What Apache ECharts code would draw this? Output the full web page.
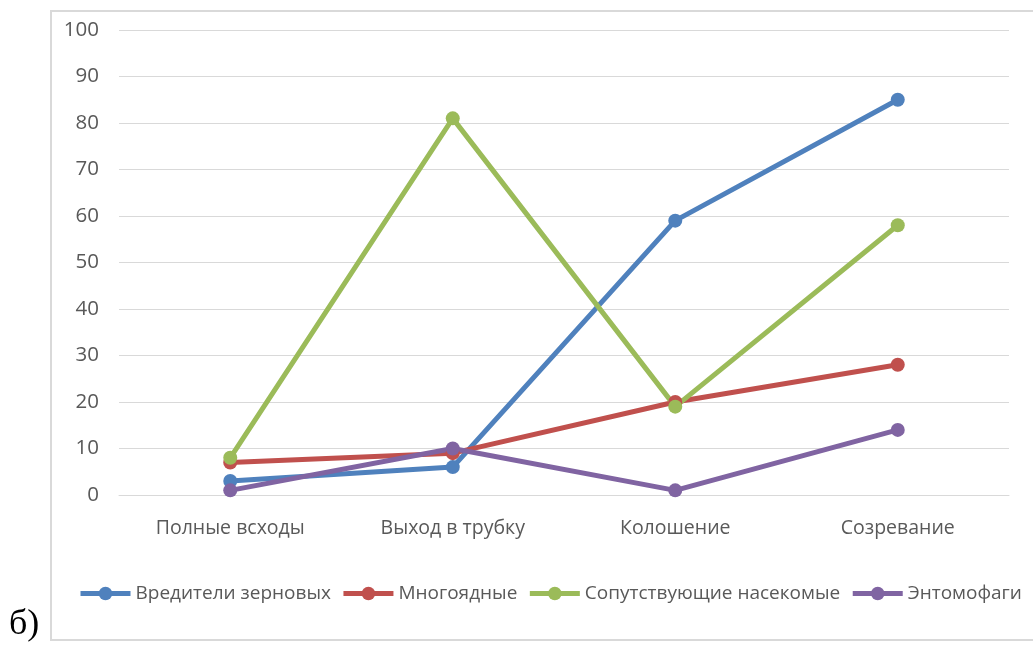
<!DOCTYPE html>
<html>
<head>
<meta charset="utf-8">
<script src="https://cdn.jsdelivr.net/npm/echarts@6/dist/echarts.min.js"></script>
<style>
html,body{margin:0;padding:0;background:#fff;}
#chart{width:1033px;height:650px;}
</style>
</head>
<body>
<div id="chart"></div>
<script>
const categories = ['Полные всходы', 'Выход в трубку', 'Колошение', 'Созревание'];
const pests = [3, 6, 59, 85];          // Вредители зерновых
const polyphagous = [7, 9, 20, 28];    // Многоядные
const accompanying = [8, 81, 19, 58];  // Сопутствующие насекомые
const entomophages = [1, 10, 1, 14];   // Энтомофаги
const seriesNames = ['Вредители зерновых', 'Многоядные', 'Сопутствующие насекомые', 'Энтомофаги'];
const colors = ['#4F81BD', '#C0504D', '#9BBB59', '#8064A2'];
const dataSets = [pests, polyphagous, accompanying, entomophages];

const FONT = 'Open Sans';
const chart = echarts.init(document.getElementById('chart'));
chart.setOption({
  animation: false,
  color: colors,
  textStyle: { fontFamily: FONT },
  grid: { left: 119, right: 24, top: 30, bottom: 155, containLabel: false },
  legend: {
    left: 78, top: 584, width: 1000, padding: 0,
    itemWidth: 50, itemHeight: 17, itemGap: 10,
    lineStyle: { width: 5 },
    textStyle: { fontFamily: FONT, fontSize: 19, color: '#595959', padding: [0, 0, 0, 0] },
    data: seriesNames
  },
  xAxis: {
    type: 'category',
    data: categories,
    boundaryGap: true,
    axisLine: { show: true, lineStyle: { color: '#d9d9d9', width: 1 } },
    axisTick: { show: false },
    axisLabel: { color: '#595959', fontSize: 19.5, margin: 23, fontFamily: FONT }
  },
  yAxis: {
    type: 'value',
    min: 0, max: 100, interval: 10,
    axisLine: { show: false },
    axisTick: { show: false },
    splitLine: { lineStyle: { color: '#d9d9d9', width: 1 } },
    axisLabel: { color: '#595959', fontSize: 20.5, margin: 20, fontFamily: FONT }
  },
  series: dataSets.map((d, i) => ({
    name: seriesNames[i],
    type: 'line',
    data: d,
    symbol: 'circle',
    symbolSize: 14,
    lineStyle: { width: 5, color: colors[i] },
    itemStyle: { color: colors[i] }
  })),
  graphic: [
    { type: 'rect', shape: { x: 51, y: 11, width: 990, height: 629 },
      style: { fill: 'none', stroke: '#d9d9d9', lineWidth: 2 }, z: -1 },
    { type: 'text', left: 9, top: 607,
      style: { text: 'б)', font: '36px "Liberation Serif", serif', fill: '#000' } }
  ]
});
</script>
</body>
</html>
